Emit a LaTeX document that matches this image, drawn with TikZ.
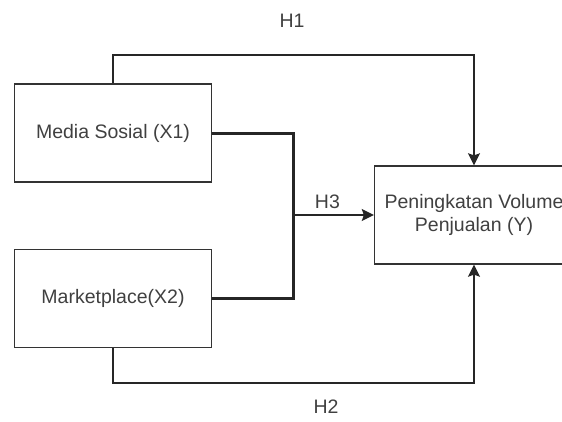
\documentclass[tikz,border=0pt]{standalone}
\usepackage{fontspec}
\setmainfont{Liberation Sans}
\usetikzlibrary{positioning,arrows.meta}

\begin{document}
\begin{tikzpicture}[x=1pt, y=-1pt,
    boxnode/.style={rectangle, draw=black!80, line width=1.4pt, fill=white, minimum width=197pt, minimum height=98pt, inner sep=0pt, align=center, text=black!75, font=\fontsize{19.5}{23}\selectfont},
    hlabel/.style={text=black!75, font=\fontsize{19.5}{23}\selectfont}
    ]
        \useasboundingbox (0,0) rectangle (562,421);
        %Nodes
        \node[boxnode]
            (mX1)   at (113,133)        {Media Sosial (X1)};
        \node[boxnode]
            (mX2)   [below=66pt of mX1] {Marketplace(X2)};
        \node[boxnode, minimum width=199pt]
            (mY)    at (474,215)        {Peningkatan Volume\\Penjualan (Y)};
        \coordinate (cJ)  at (293,215);
        \coordinate (cH1) at (113,55);
        \coordinate (cH2) at (113,383);
        \node[hlabel] (lH1) at (292,21)  {H1};
        \node[hlabel] (lH2) at (326,407) {H2};

        %Lines
        \draw[draw=black!85, line width=3pt]
            (mX1.east) -- (cJ |- mX1.east) -- (cJ |- mX2.east) -- (mX2.east);
        \draw[->, >={Stealth[length=12pt, width=12pt, inset=2pt]}, draw=black!85, line width=1.4pt]
            (cJ) -- node[hlabel, above=2pt, xshift=-6pt] (lH3) {H3} (mY.west);
        \draw[->, >={Stealth[length=12pt, width=12pt, inset=2pt]}, draw=black!85, line width=1.4pt]
            (mX1.north) -- (cH1) -- (cH1 -| mY.north) -- (mY.north);
        \draw[->, >={Stealth[length=12pt, width=12pt, inset=2pt]}, draw=black!85, line width=1.4pt]
            (mX2.south) -- (cH2) -- (cH2 -| mY.south) -- (mY.south);
    \end{tikzpicture}
\end{document}
